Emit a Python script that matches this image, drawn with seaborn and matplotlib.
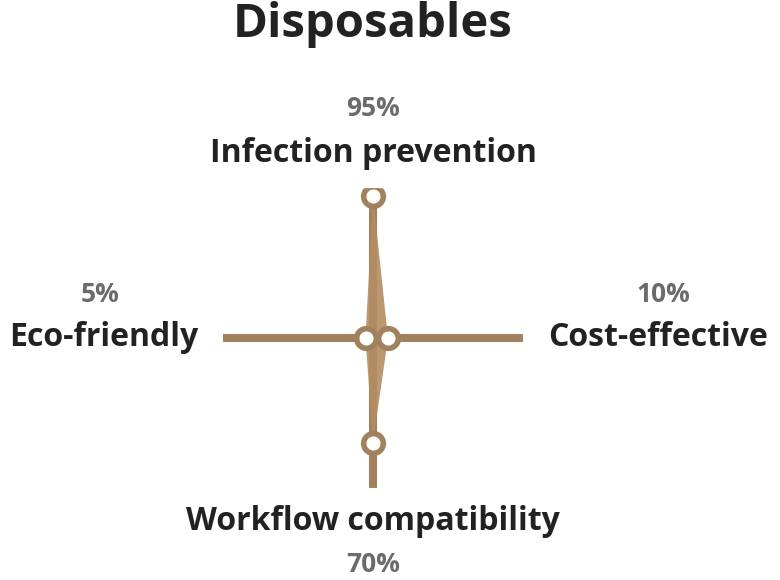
import numpy as np
import pandas as pd
import seaborn as sns
import matplotlib.pyplot as plt

# chart data
title = "Disposables"
categories = ["Infection prevention", "Cost-effective", "Workflow compatibility", "Eco-friendly"]
values = [95, 10, 70, 5]
value_labels = ["95%", "10%", "70%", "5%"]

sns.set_theme(style="white")
plt.rcParams['font.family'] = ['Open Sans', 'DejaVu Sans']

brown = "#a2825e"
fill = "#b38d62"
dark = "#222222"
grey = "#6b6b6b"

fig = plt.figure(figsize=(7.8, 5.8), dpi=100)
W, H = 780, 580
cx, cy, R = 373, 338, 150
ax = fig.add_axes([(cx - R) / W, (H - cy - R) / H, 2 * R / W, 2 * R / H], projection="polar")
ax.set_theta_offset(np.pi / 2)
ax.set_theta_direction(-1)

angles = np.linspace(0, 2 * np.pi, len(categories), endpoint=False)
df = pd.DataFrame({"angle": angles, "value": values, "category": categories})

# spokes
for a in angles:
    ax.plot([a, a], [0, 100], color=brown, lw=5.8, solid_capstyle="butt", zorder=1)

# filled area
closed_a = np.append(angles, angles[0])
closed_v = np.append(values, values[0])
ax.fill(closed_a, closed_v, color=fill, alpha=0.9, lw=0, zorder=2)

# markers
sns.scatterplot(data=df, x="angle", y="value", ax=ax, s=200, color="white",
                edgecolor=brown, linewidth=4, zorder=4, legend=False)

ax.set_ylim(0, 100)
ax.set_xticks([])
ax.set_yticks([])
ax.grid(False)
ax.spines["polar"].set_visible(False)
ax.set_xlabel("")
ax.set_ylabel("")
ax.patch.set_alpha(0)

def px(x, y):
    return x / W, 1 - y / H

fig.text(*px(373, 25), title, ha="center", va="center", fontsize=34, fontweight="bold", color=dark)

# label layout: (category x, y, ha), (value x, y)
layout = [
    ((373, 153, "center"), (373, 109)),
    ((548, 338, "left"), (663, 294)),
    ((373, 522, "center"), (373, 564)),
    ((198, 338, "right"), (100, 294)),
]
for cat, val, ((lx, ly, ha), (vx, vy)) in zip(categories, value_labels, layout):
    fig.text(*px(lx, ly), cat, ha=ha, va="center", fontsize=23, fontweight="bold", color=dark)
    fig.text(*px(vx, vy), val, ha="center", va="center", fontsize=19, fontweight="bold", color=grey)

fig.savefig("out.png", dpi=100, facecolor="white")
